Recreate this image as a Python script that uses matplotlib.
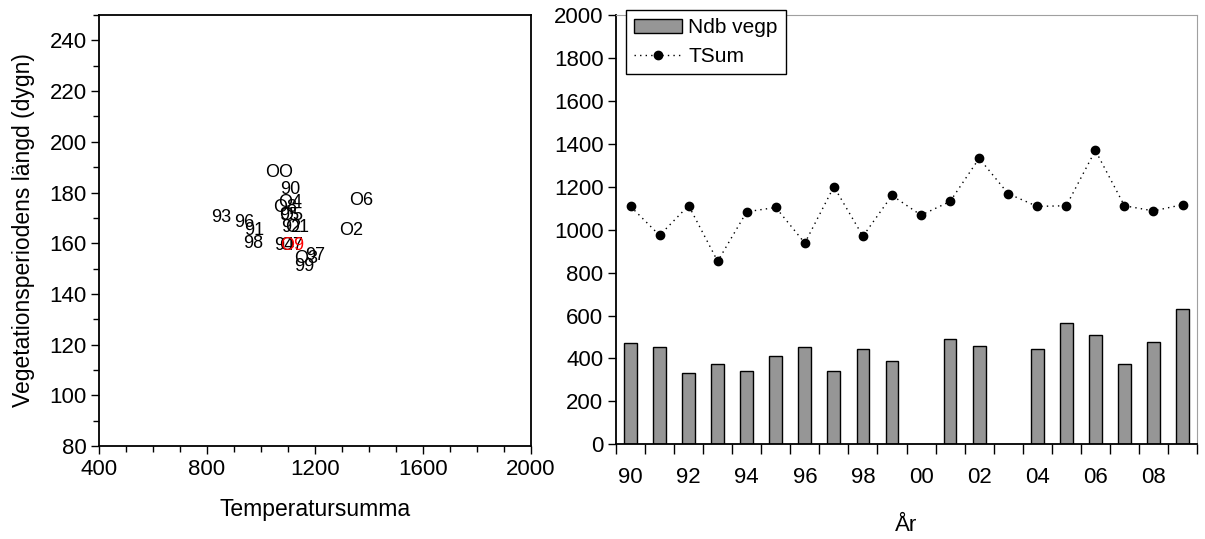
import numpy as np
import matplotlib
matplotlib.use('Agg')
import matplotlib.pyplot as plt
from matplotlib.ticker import MultipleLocator, FixedLocator, NullFormatter
from matplotlib.patches import Patch
from matplotlib.lines import Line2D

plt.rcParams['font.family'] = ['Liberation Sans', 'DejaVu Sans']

# år 1990-2009
years = ['90', '91', '92', '93', '94', '95', '96', '97', '98', '99',
         '00', '01', '02', '03', '04', '05', '06', '07', '08', '09']
# etiketter i punktdiagrammet (bokstaven O som i originalet)
point_labels = ['90', '91', '92', '93', '94', '95', '96', '97', '98', '99',
                'OO', 'O1', 'O2', 'O3', 'O4', 'O5', 'O6', 'O7', 'O8', 'O9']

tsum = [1109, 974, 1113, 853, 1084, 1104, 938, 1201, 970, 1160,
        1068, 1132, 1333, 1168, 1109, 1112, 1370, 1112, 1088, 1117]
ndb_vegp = [470, 452, 334, 372, 340, 411, 452, 340, 444, 387,
            np.nan, 492, 456, np.nan, 444, 565, 508, 376, 475, 632]
veg_length = [181, 165, 166, 170, 159, 171, 168, 155, 160, 151,
              188, 166, 165, 154, 176, 171, 177, 159, 174, 159]

fig = plt.figure(figsize=(12.05, 5.39), dpi=100)

# vänster: vegetationsperiodens längd mot temperatursumma
ax1 = fig.add_axes([0.0822, 0.1725, 0.3585, 0.7996])
for x, y, lab in zip(tsum, veg_length, point_labels):
    ax1.text(x, y, lab, ha='center', va='center', fontsize=13,
             color='red' if lab == 'O9' else 'black')
ax1.set_xlim(400, 2000)
ax1.set_ylim(80, 250)
ax1.xaxis.set_major_locator(MultipleLocator(400))
ax1.xaxis.set_minor_locator(MultipleLocator(100))
ax1.yaxis.set_major_locator(MultipleLocator(20))
ax1.yaxis.set_minor_locator(MultipleLocator(10))
ax1.tick_params(which='major', direction='out', length=6, width=1, labelsize=16, pad=3)
ax1.tick_params(which='minor', direction='out', length=4, width=1)
for sp in ax1.spines.values():
    sp.set_linewidth(1.3)
ax1.set_xlabel('Temperatursumma', fontsize=16.5, labelpad=13)
ax1.set_ylabel('Vegetationsperiodens längd (dygn)', fontsize=16.5, labelpad=10)

# höger: nederbörd under vegetationsperioden och temperatursumma per år
ax2 = fig.add_axes([0.5112, 0.1757, 0.4822, 0.796])
x = np.arange(len(years))
ax2.bar(x, ndb_vegp, width=0.44, color='#969696', edgecolor='black', linewidth=1)
ax2.plot(x, tsum, linestyle=(0, (1, 3)), color='black', lw=1,
         marker='o', markersize=6)
ax2.set_xlim(-0.5, len(years) - 0.5)
ax2.set_ylim(0, 2000)
ax2.yaxis.set_major_locator(MultipleLocator(200))
ax2.xaxis.set_major_locator(FixedLocator(np.arange(-0.5, len(years), 1)))
ax2.xaxis.set_major_formatter(NullFormatter())
ax2.xaxis.set_minor_locator(FixedLocator(x[::2]))
ax2.set_xticklabels(years[::2], minor=True)
ax2.tick_params(axis='x', which='major', direction='out', length=7, width=1)
ax2.tick_params(axis='x', which='minor', length=0, labelsize=16, pad=16)
ax2.tick_params(axis='y', direction='out', length=6, width=1, labelsize=16, pad=3)
ax2.spines['left'].set_linewidth(1.3)
ax2.spines['bottom'].set_linewidth(1.3)
ax2.spines['top'].set_color('#a0a0a0')
ax2.spines['right'].set_color('#a0a0a0')
ax2.set_xlabel('År', fontsize=16, labelpad=20)

handles = [Patch(facecolor='#969696', edgecolor='black', linewidth=1),
           Line2D([], [], linestyle=(0, (1, 3)), color='black', lw=1,
                  marker='o', markersize=6)]
leg = ax2.legend(handles, ['Ndb vegp', 'TSum'], loc='upper left',
                 bbox_to_anchor=(0.017, 1.012), borderaxespad=0, fontsize=15,
                 fancybox=False, framealpha=1, edgecolor='black',
                 handlelength=2.3, handletextpad=0.3, borderpad=0.4,
                 labelspacing=0.45)
leg.get_frame().set_linewidth(1)

fig.savefig('out.png', dpi=100)
